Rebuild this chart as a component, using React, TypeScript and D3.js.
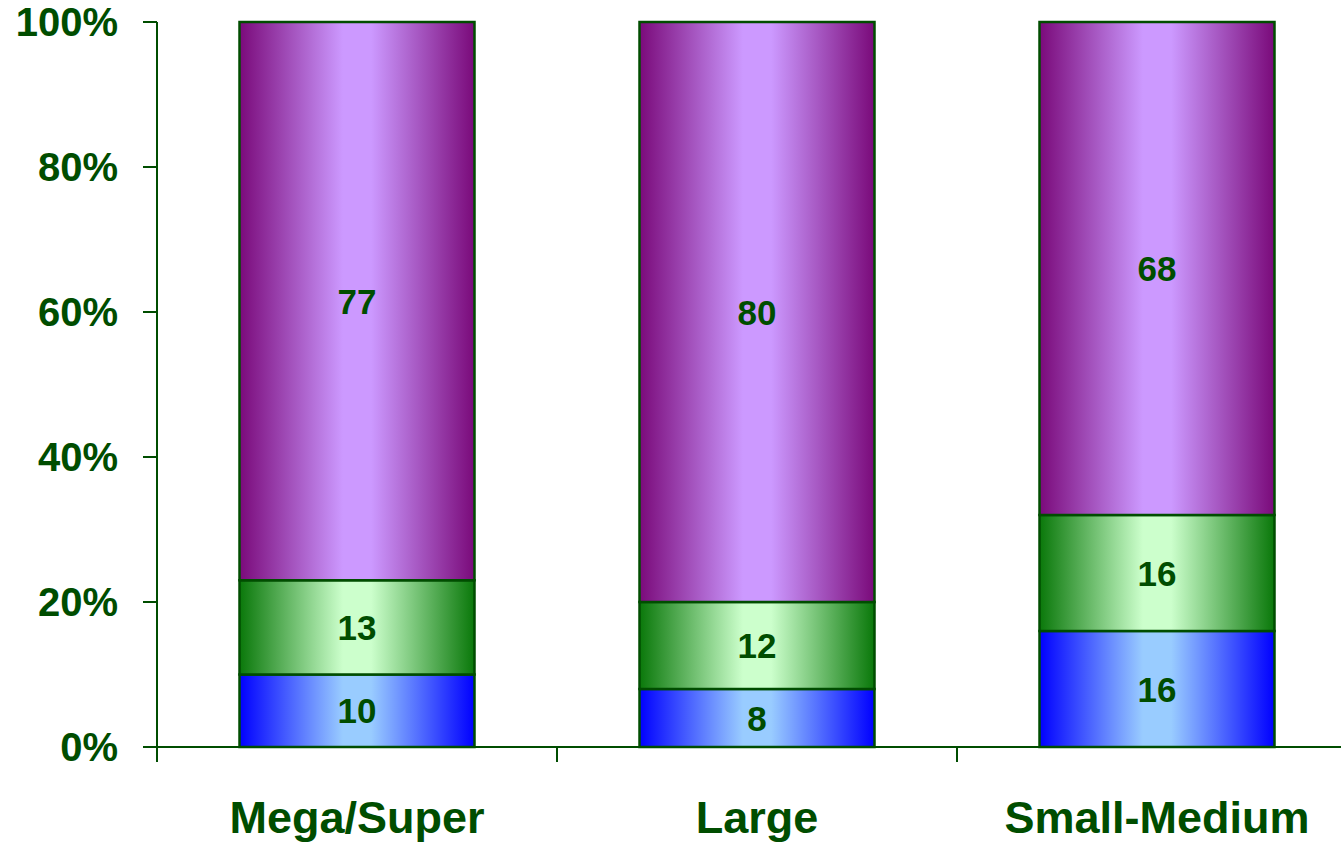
import React from 'react';
import * as d3 from 'd3';

const categories = ['Mega/Super', 'Large', 'Small-Medium'];
const seriesKeys = ['blue', 'green', 'purple'];
const blueValues = [10, 8, 16];
const greenValues = [13, 12, 16];
const purpleValues = [77, 80, 68];
const yTicks = [0, 20, 40, 60, 80, 100];

const W = 1341;
const H = 843;
const ink = '#004d00';

const gradients: Record<string, [string, string]> = {
  blue: ['#0000ff', '#99ccff'],
  green: ['#0a780a', '#ccffcc'],
  purple: ['#7a0a7a', '#cc99ff'],
};

export default function App() {
  const x = d3.scaleBand<string>()
    .domain(categories)
    .range([157, 1357])
    .paddingInner(0.4125)
    .paddingOuter(0.20625);
  const y = d3.scaleLinear().domain([0, 100]).range([747, 22]);

  const rows = categories.map((c, i) => ({
    cat: c,
    blue: blueValues[i],
    green: greenValues[i],
    purple: purpleValues[i],
  }));
  const stacked = d3.stack<any>().keys(seriesKeys)(rows);

  // tick marks between categories (the last one falls off the right edge)
  const xTicks = [157, ...categories.map(c => (x(c) as number) + x.bandwidth() + (x.step() - x.bandwidth()) / 2)];

  return (
    <svg width={W} height={H} style={{ position: 'absolute', left: 0, top: 0 }}
      fontFamily="'Liberation Sans', Arial, sans-serif" fontWeight="bold">
      <defs>
        {seriesKeys.map(k => (
          <linearGradient key={k} id={`g-${k}`} x1="0" x2="1" y1="0" y2="0">
            <stop offset="0" stopColor={gradients[k][0]} />
            <stop offset="0.44" stopColor={gradients[k][1]} />
            <stop offset="0.56" stopColor={gradients[k][1]} />
            <stop offset="1" stopColor={gradients[k][0]} />
          </linearGradient>
        ))}
      </defs>
      {stacked.map(s => (
        <g key={s.key}>
          {s.map((d, i) => {
            const x0 = x(categories[i]) as number;
            const top = y(d[1]);
            const bot = y(d[0]);
            return (
              <g key={i}>
                <rect x={x0} y={top} width={x.bandwidth()} height={bot - top}
                  fill={`url(#g-${s.key})`} stroke={ink} strokeWidth={2.5} />
                <text x={x0 + x.bandwidth() / 2} y={(top + bot) / 2} dy="0.36em"
                  textAnchor="middle" fontSize={35} fill={ink}>{d[1] - d[0]}</text>
              </g>
            );
          })}
        </g>
      ))}
      {/* axes */}
      <line x1={157} x2={157} y1={22} y2={762} stroke={ink} strokeWidth={2} />
      <line x1={143} x2={W} y1={747} y2={747} stroke={ink} strokeWidth={2} />
      {yTicks.map(t => (
        <g key={t}>
          <line x1={143} x2={157} y1={y(t)} y2={y(t)} stroke={ink} strokeWidth={2} />
          <text x={118} y={y(t)} dy="0.36em" textAnchor="end" fontSize={40} fill={ink}>{t}%</text>
        </g>
      ))}
      {xTicks.map((t, i) => (
        <line key={i} x1={t} x2={t} y1={747} y2={762} stroke={ink} strokeWidth={2} />
      ))}
      {categories.map(c => (
        <text key={c} x={(x(c) as number) + x.bandwidth() / 2} y={833} textAnchor="middle"
          fontSize={45} fill={ink}>{c}</text>
      ))}
    </svg>
  );
}
